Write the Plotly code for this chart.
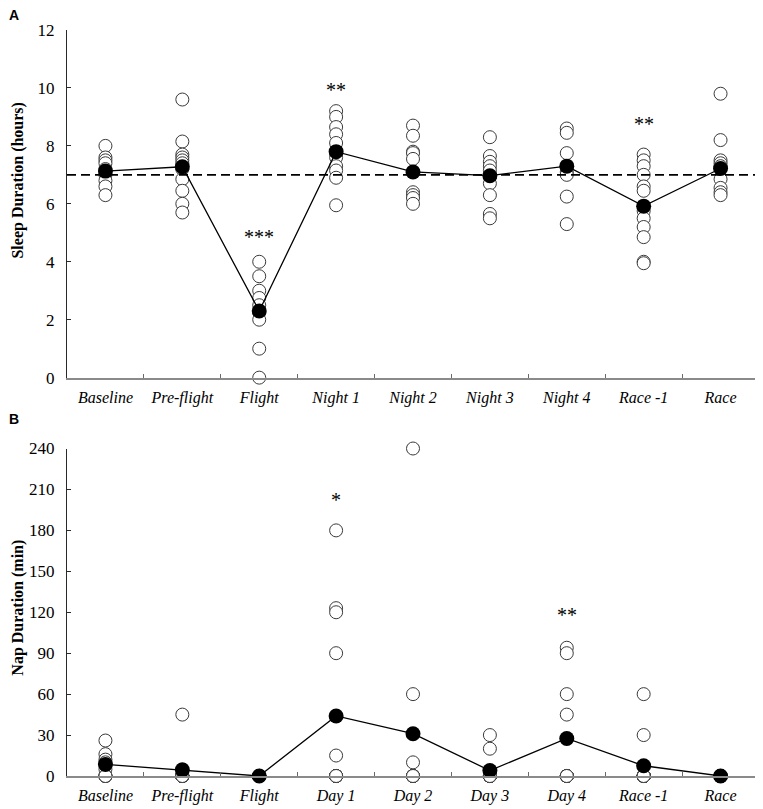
import plotly.graph_objects as go
from plotly.subplots import make_subplots

# panel A - sleep duration (hours)
nights = ['Baseline', 'Pre-flight', 'Flight', 'Night 1', 'Night 2', 'Night 3', 'Night 4', 'Race -1', 'Race']
sleep_baseline = [8.0, 7.6, 7.5, 7.4, 7.2, 7.0, 6.8, 6.6, 6.3]
sleep_preflight = [9.6, 8.15, 7.7, 7.6, 7.5, 7.4, 7.2, 6.85, 6.45, 6.0, 5.7]
sleep_flight = [4.0, 3.5, 3.0, 2.75, 2.5, 2.25, 2.0, 1.0, 0.0]
sleep_night1 = [9.2, 9.0, 8.65, 8.4, 8.1, 7.6, 7.3, 7.15, 6.9, 5.95]
sleep_night2 = [8.7, 8.35, 7.8, 7.75, 7.55, 7.1, 6.4, 6.3, 6.2, 6.0]
sleep_night3 = [8.3, 7.65, 7.45, 7.3, 7.15, 6.95, 6.7, 6.3, 5.65, 5.5]
sleep_night4 = [8.6, 8.45, 7.75, 7.3, 7.1, 7.0, 6.25, 5.3]
sleep_race1 = [7.7, 7.5, 7.3, 7.0, 6.6, 6.45, 5.75, 5.5, 5.2, 4.85, 4.0, 3.95]
sleep_race = [9.8, 8.2, 7.5, 7.4, 7.3, 6.85, 6.55, 6.4, 6.3]
sleep_mean = [7.13, 7.28, 2.3, 7.8, 7.1, 6.97, 7.3, 5.92, 7.22]
sleep_ref = 7.0
sleep_sig = {'Flight': ('***', 4.85), 'Night 1': ('**', 9.94), 'Race -1': ('**', 8.77)}

# panel B - nap duration (min)
days = ['Baseline', 'Pre-flight', 'Flight', 'Day 1', 'Day 2', 'Day 3', 'Day 4', 'Race -1', 'Race']
nap_baseline = [26, 16, 12, 10, 5, 0, 0, 0, 0]
nap_preflight = [45, 0, 0, 0, 0, 0, 0, 0, 0, 0]
nap_flight = [0, 0, 0, 0, 0, 0, 0, 0, 0, 0]
nap_day1 = [180, 123, 120, 90, 15, 0, 0, 0, 0, 0, 0, 0]
nap_day2 = [240, 60, 10, 0, 0, 0, 0, 0, 0, 0]
nap_day3 = [30, 20, 0, 0, 0, 0, 0, 0, 0, 0, 0, 0]
nap_day4 = [94, 90, 60, 45, 0, 0, 0, 0, 0, 0]
nap_race1 = [60, 30, 0, 0, 0, 0, 0, 0, 0, 0, 0, 0]
nap_race = [0, 0, 0, 0, 0, 0, 0, 0, 0, 0]
nap_mean = [8.5, 4.5, 0, 44, 31, 4, 27.5, 7.5, 0]
nap_sig = {'Day 1': ('*', 202), 'Day 4': ('**', 118)}

sleep_points = [sleep_baseline, sleep_preflight, sleep_flight, sleep_night1, sleep_night2,
                sleep_night3, sleep_night4, sleep_race1, sleep_race]
nap_points = [nap_baseline, nap_preflight, nap_flight, nap_day1, nap_day2,
              nap_day3, nap_day4, nap_race1, nap_race]

SERIF = 'Liberation Serif, Times New Roman, serif'

fig = make_subplots(rows=2, cols=1, vertical_spacing=0.095)


def add_panel(row, cats, points, means):
    xs, ys = [], []
    for c, vals in zip(cats, points):
        xs += [c] * len(vals)
        ys += vals
    fig.add_trace(go.Scatter(x=xs, y=ys, mode='markers', cliponaxis=False, showlegend=False,
                             marker=dict(size=13, color='white', line=dict(color='#3a3a3a', width=1))),
                  row=row, col=1)
    fig.add_trace(go.Scatter(x=cats, y=means, mode='lines+markers', cliponaxis=False, showlegend=False,
                             line=dict(color='black', width=1.3),
                             marker=dict(size=15, color='black')),
                  row=row, col=1)


add_panel(1, nights, sleep_points, sleep_mean)
add_panel(2, days, nap_points, nap_mean)

fig.add_shape(type='line', xref='x domain', yref='y', x0=0, x1=1, y0=sleep_ref, y1=sleep_ref,
              line=dict(color='black', width=1.8, dash='9px,5px'))

for c, (txt, yv) in sleep_sig.items():
    fig.add_annotation(x=c, y=yv, xref='x', yref='y', text=txt, showarrow=False,
                       font=dict(family=SERIF, size=20, color='black'))
for c, (txt, yv) in nap_sig.items():
    fig.add_annotation(x=c, y=yv, xref='x2', yref='y2', text=txt, showarrow=False,
                       font=dict(family=SERIF, size=20, color='black'))

fig.update_xaxes(showline=True, linecolor='#8a8a8a', linewidth=1.5, showgrid=False, zeroline=False,
                 ticks='inside', ticklen=4, tickcolor='#6a6a6a', tickwidth=1, ticklabelstandoff=4,
                 type='category', tickson='boundaries', range=[-0.5, 8.5],
                 tickfont=dict(family=SERIF, size=16, color='black', style='italic'))
fig.update_yaxes(showline=True, linecolor='#2a2a2a', linewidth=1, showgrid=False, zeroline=False,
                 ticks='inside', ticklen=4, tickcolor='#2a2a2a', tickwidth=1, ticklabelstandoff=8,
                 tickfont=dict(family=SERIF, size=17, color='black'))
fig.update_yaxes(range=[0, 12], tickvals=[0, 2, 4, 6, 8, 10, 12], row=1, col=1)
fig.update_yaxes(range=[0, 240], tickvals=[0, 30, 60, 90, 120, 150, 180, 210, 240], row=2, col=1)
fig.update_layout(yaxis=dict(domain=[0.534, 1.0]), yaxis2=dict(domain=[0.0, 0.439]))

fig.add_annotation(text='<b>Sleep Duration (hours)</b>', textangle=-90, xref='paper', yref='y domain',
                   x=0, y=0.567, xshift=-49, xanchor='center', yanchor='middle', showarrow=False,
                   font=dict(family=SERIF, size=16, color='black'))
fig.add_annotation(text='<b>Nap Duration (min)</b>', textangle=-90, xref='paper', yref='y2 domain',
                   x=0, y=0.514, xshift=-49, xanchor='center', yanchor='middle', showarrow=False,
                   font=dict(family=SERIF, size=16, color='black'))
fig.add_annotation(text='<b>A</b>', xref='paper', yref='paper', x=0, y=1, xshift=-53, yshift=15,
                   xanchor='center', yanchor='middle', showarrow=False,
                   font=dict(family='Liberation Sans, Arial', size=14, color='black'))
fig.add_annotation(text='<b>B</b>', xref='paper', yref='paper', x=0, y=0.439, xshift=-53, yshift=30,
                   xanchor='center', yanchor='middle', showarrow=False,
                   font=dict(family='Liberation Sans, Arial', size=14, color='black'))

# the page adds an 8px body margin, so the figure is drawn 8px smaller and shifted
fig.update_layout(width=755, height=801, margin=dict(l=59, r=4, t=22, b=30),
                  plot_bgcolor='white', paper_bgcolor='white')

fig.write_html("out.html")
